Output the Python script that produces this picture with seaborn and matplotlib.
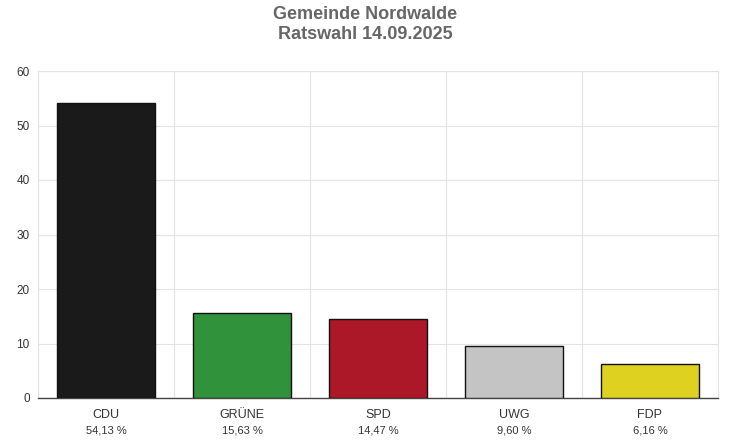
import matplotlib.pyplot as plt
import matplotlib.transforms as mtransforms
import numpy as np
import seaborn as sns
import pandas as pd

parties = ['CDU', 'GRÜNE', 'SPD', 'UWG', 'FDP']
shares = [54.13, 15.63, 14.47, 9.60, 6.16]
colors = ['#1a1a1a', '#20a22e', '#c40013', '#c4c4c4', '#ffec00']

sns.set_style('white')
plt.rcParams['font.family'] = ['Liberation Sans', 'DejaVu Sans']

df = pd.DataFrame({'partei': parties, 'anteil': shares})

fig = plt.figure(figsize=(7.31, 4.46), dpi=100)
ax = fig.add_axes([38 / 731, 48 / 446, 680 / 731, 327 / 446])

sns.barplot(data=df, x='partei', y='anteil', hue='partei', palette=colors,
            width=0.72, legend=False, ax=ax, zorder=3,
            edgecolor=['#111111', '#1a8a27', '#a80010', '#b0b0b0', '#e0cf00'], linewidth=1)

ax.set_xlim(-0.5, 4.5)
ax.set_ylim(0, 60)
ax.set_yticks(range(0, 61, 10))
ax.set_xticks(np.arange(-0.5, 4.6, 1), minor=True)
ax.set_xticks(range(5))
ax.set_xticklabels([])
ax.tick_params(axis='x', which='major', length=0)
ax.tick_params(axis='x', which='minor', length=9, color='#666666', width=0.8)
ax.tick_params(axis='y', length=0, labelsize=8.5, labelcolor='#333333', pad=6)
ax.grid(axis='y', color='#e3e3e3', linewidth=0.8, zorder=0)
ax.grid(axis='x', which='minor', color='#e3e3e3', linewidth=0.8, zorder=0)
ax.set_xlabel('')
ax.set_ylabel('')
for s in ['top', 'right', 'left']:
    ax.spines[s].set_color('#e3e3e3')
    ax.spines[s].set_linewidth(0.8)
ax.spines['bottom'].set_color('#444444')
ax.spines['bottom'].set_linewidth(1)

trans = mtransforms.blended_transform_factory(ax.transData, ax.transAxes)
for i, (p, v) in enumerate(zip(parties, shares)):
    ax.text(i, -0.035, p, transform=trans, ha='center', va='top', fontsize=9, color='#333333')
    ax.text(i, -0.085, f'{v:.2f} %'.replace('.', ','), transform=trans,
            ha='center', va='top', fontsize=8, color='#333333')

fig.text(0.5, 0.945, 'Gemeinde Nordwalde\nRatswahl 14.09.2025', ha='center', va='center',
         fontsize=13, fontweight='bold', color='#666666', linespacing=1.3)

fig.savefig('out.png', dpi=100)
